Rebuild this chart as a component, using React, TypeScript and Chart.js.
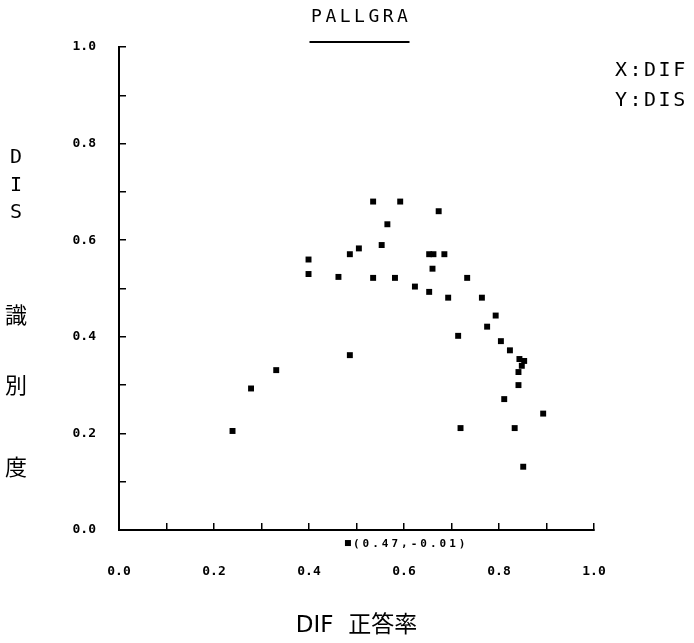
import { useEffect, useRef } from 'react';
import { Chart, registerables } from 'chart.js';

Chart.register(...registerables);

// DIF (x, 正答率) and DIS (y, 識別度) for each item
const difValues = [
  0.239, 0.278, 0.331, 0.399, 0.399, 0.462, 0.486, 0.486, 0.505, 0.535,
  0.592, 0.565, 0.553, 0.535, 0.581, 0.623, 0.653, 0.662, 0.685, 0.660,
  0.673, 0.653, 0.693, 0.733, 0.764, 0.714, 0.793, 0.775, 0.804, 0.823,
  0.843, 0.853, 0.848, 0.841, 0.841, 0.811, 0.893, 0.719, 0.833, 0.851,
];
const disValues = [
  0.205, 0.293, 0.331, 0.560, 0.530, 0.524, 0.362, 0.571, 0.583, 0.680,
  0.680, 0.633, 0.590, 0.522, 0.522, 0.504, 0.571, 0.571, 0.571, 0.541,
  0.660, 0.493, 0.481, 0.522, 0.481, 0.402, 0.444, 0.421, 0.391, 0.372,
  0.354, 0.350, 0.340, 0.327, 0.300, 0.271, 0.241, 0.211, 0.211, 0.131,
];
// out-of-range item, drawn below the axis with its value written next to it
const outlierDif = [0.482];
const outlierDis = [-0.027];
const outlierLabels = ['(0.47,-0.01)'];

const xTickLabels = ['0.0', '0.2', '0.4', '0.6', '0.8', '1.0'];
const yTickLabels = ['0.0', '0.2', '0.4', '0.6', '0.8', '1.0'];

const chartTitle = 'PALLGRA';
const axisNotes = ['X:DIF', 'Y:DIS'];
const yTitleChars = ['D', 'I', 'S', '識', '別', '度'];
const xTitle = 'DIF  正答率';

const MONO = '"DejaVu Sans Mono", monospace';
const MARK = 6;

const textPlugin = {
  id: 'texts',
  afterDatasetsDraw(chart: any) {
    // the out-of-range mark lies outside the chart area, so draw it at the element position the scales computed
    const ctx = chart.ctx as CanvasRenderingContext2D;
    const meta = chart.getDatasetMeta(1);
    ctx.save();
    ctx.fillStyle = '#000';
    meta.data.forEach((el: any) => {
      ctx.fillRect(el.x - MARK / 2, el.y - MARK / 2, MARK, MARK);
    });
    ctx.restore();
  },
  afterDraw(chart: any) {
    const ctx = chart.ctx as CanvasRenderingContext2D;
    const area = chart.chartArea;
    const cx = (area.left + area.right) / 2 + 3;
    ctx.save();
    ctx.fillStyle = '#000';
    ctx.strokeStyle = '#000';

    // title + underline
    ctx.font = `18px ${MONO}`;
    (ctx as any).letterSpacing = '3.5px';
    ctx.textAlign = 'left';
    ctx.textBaseline = 'middle';
    const tw = ctx.measureText(chartTitle).width - 3.5;
    ctx.fillText(chartTitle, cx - tw / 2, 17);
    ctx.lineWidth = 2;
    ctx.beginPath();
    ctx.moveTo(cx - 50, 42);
    ctx.lineTo(cx + 50, 42);
    ctx.stroke();

    // axis notes
    ctx.font = `20px ${MONO}`;
    (ctx as any).letterSpacing = '2.5px';
    axisNotes.forEach((t, i) => ctx.fillText(t, 615, 71 + i * 30));

    // vertical y-axis title
    (ctx as any).letterSpacing = '0px';
    ctx.textAlign = 'center';
    const yPos = [158, 186, 213, 315, 385, 467];
    yTitleChars.forEach((c, i) => {
      ctx.font = i < 3 ? `20px ${MONO}` : `22px "Noto Sans CJK JP"`;
      ctx.fillText(c, 16, yPos[i]);
    });

    // outlier label
    const xs = chart.scales.x;
    const ys = chart.scales.y;
    ctx.font = `bold 11px ${MONO}`;
    (ctx as any).letterSpacing = '3px';
    ctx.textAlign = 'left';
    outlierLabels.forEach((t, i) => {
      ctx.fillText(t, xs.getPixelForValue(outlierDif[i]) + 5, ys.getPixelForValue(outlierDis[i]) + 1);
    });
    ctx.restore();
  },
};

export default function App() {
  const ref = useRef<HTMLCanvasElement | null>(null);

  useEffect(() => {
    if (!ref.current) return;
    const tickFont = { family: MONO, size: 13, weight: 'bold' as const };
    const chart = new Chart(ref.current, {
      type: 'scatter',
      data: {
        datasets: [
          {
            data: difValues.map((x, i) => ({ x, y: disValues[i] })),
            backgroundColor: '#000',
            borderColor: '#000',
            pointStyle: 'rect',
            pointRadius: 4.2,
            borderWidth: 0,
          },
          {
            data: outlierDif.map((x, i) => ({ x, y: outlierDis[i] })),
            backgroundColor: '#000',
            borderColor: '#000',
            pointStyle: 'rect',
            pointRadius: 4.2,
            borderWidth: 0,
          },
        ],
      },
      options: {
        responsive: false,
        animation: false,
        layout: { padding: { top: 47, right: 100, left: 0, bottom: 0 } },
        plugins: {
          legend: { display: false },
          tooltip: { enabled: false },
          title: { display: false },
        },
        scales: {
          x: {
            type: 'linear',
            min: 0,
            max: 1,
            afterFit: (s: any) => {
              s.height = 113;
            },
            border: { color: '#000', width: 2 },
            grid: { drawOnChartArea: false, drawTicks: true, tickLength: -7, color: '#000', lineWidth: 1.5 },
            ticks: {
              stepSize: 0.1,
              padding: 41,
              color: '#000',
              font: tickFont,
              maxRotation: 0,
              autoSkip: false,
              callback: (_v: any, i: number) => (i % 2 === 0 ? xTickLabels[i / 2] : ''),
            },
            title: {
              display: true,
              text: xTitle,
              color: '#000',
              font: { family: '"DejaVu Sans", "Noto Sans CJK JP"', size: 23 },
              padding: { top: 0, bottom: 3 },
            },
          },
          y: {
            type: 'linear',
            min: 0,
            max: 1,
            afterFit: (s: any) => {
              s.width = 119;
            },
            border: { color: '#000', width: 2 },
            grid: { drawOnChartArea: false, drawTicks: true, tickLength: -7, color: '#000', lineWidth: 1.5 },
            ticks: {
              stepSize: 0.1,
              padding: 30,
              color: '#000',
              font: tickFont,
              autoSkip: false,
              callback: (_v: any, i: number) => (i % 2 === 0 ? yTickLabels[i / 2] : ''),
            },
          },
        },
      },
      plugins: [textPlugin],
    });
    return () => chart.destroy();
  }, []);

  return (
    <div style={{ position: 'fixed', left: 0, top: 0, width: 694, height: 643, background: '#fff' }}>
      <canvas ref={ref} width={694} height={643} style={{ width: 694, height: 643, display: 'block' }} />
    </div>
  );
}
